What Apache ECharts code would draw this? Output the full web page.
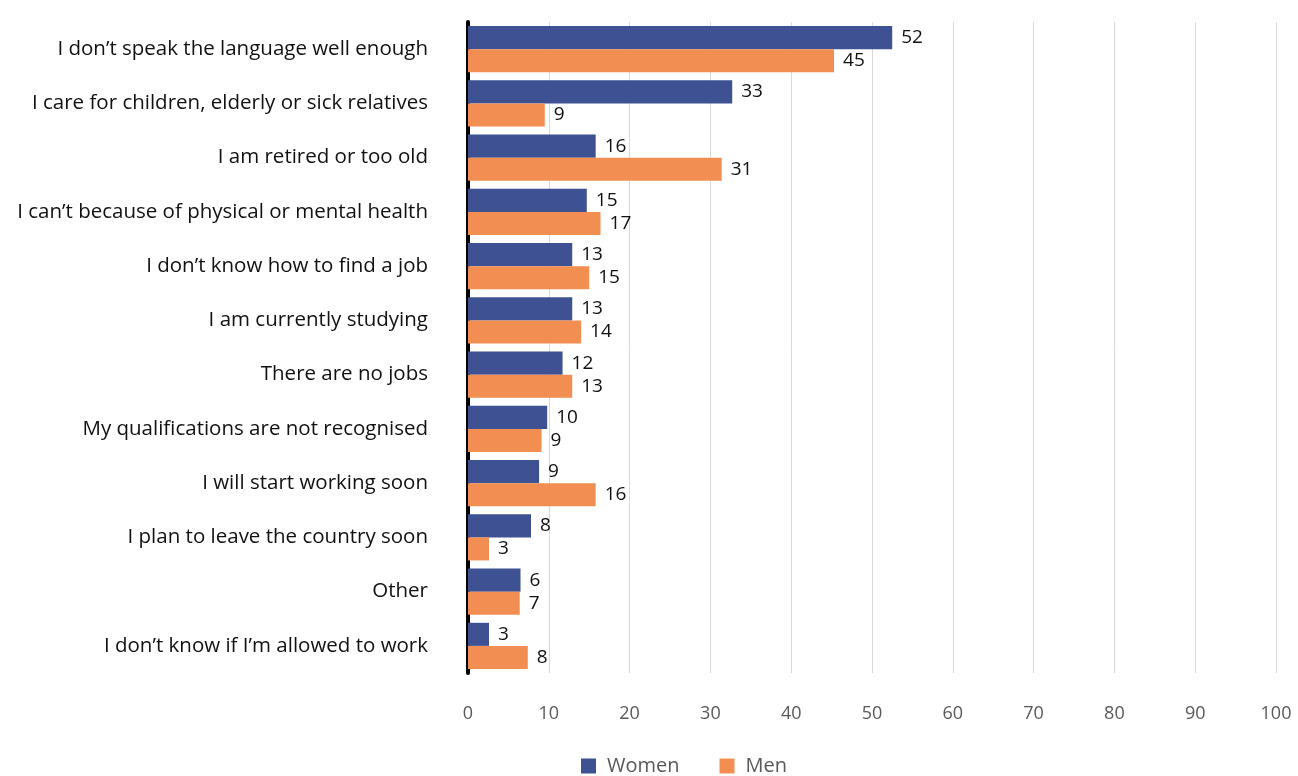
<!DOCTYPE html>
<html>
<head>
<meta charset="utf-8">
<script src="https://cdn.jsdelivr.net/npm/echarts@6/dist/echarts.min.js"></script>
<style>html,body{margin:0;padding:0;background:#fff}#c{width:1298px;height:776px}</style>
</head>
<body>
<div id="c"></div>
<script>
var categories = [
  "I don\u2019t speak the language well enough",
  "I care for children, elderly or sick relatives",
  "I am retired or too old",
  "I can\u2019t because of physical or mental health",
  "I don\u2019t know how to find a job",
  "I am currently studying",
  "There are no jobs",
  "My qualifications are not recognised",
  "I will start working soon",
  "I plan to leave the country soon",
  "Other",
  "I don\u2019t know if I\u2019m allowed to work"
];
var women = [52.5, 32.7, 15.8, 14.7, 12.9, 12.9, 11.7, 9.8, 8.8, 7.8, 6.5, 2.6];
var men = [45.3, 9.5, 31.4, 16.4, 15.0, 14.0, 12.9, 9.1, 15.8, 2.6, 6.4, 7.4];
var womenLabels = [52, 33, 16, 15, 13, 13, 12, 10, 9, 8, 6, 3];
var menLabels = [45, 9, 31, 17, 15, 14, 13, 9, 16, 3, 7, 8];
var xTicks = [0, 10, 20, 30, 40, 50, 60, 70, 80, 90, 100];

var FONT = "Open Sans";
var chart = echarts.init(document.getElementById('c'), null, {renderer: 'canvas'});
function lbl(arr) {
  return function (p) { return String(arr[p.dataIndex]); };
}
chart.setOption({
  animation: false,
  textStyle: {fontFamily: FONT},
  grid: {left: 468, right: 22, top: 22, bottom: 103, containLabel: false},
  legend: {
    data: ['Women', 'Men'],
    top: 751,
    left: 576,
    itemWidth: 15, itemHeight: 15, itemGap: 40,
    icon: 'rect',
    textStyle: {fontFamily: FONT, fontSize: 20, color: '#595959', padding: [0, 0, 0, 6]}
  },
  xAxis: {
    type: 'value', min: xTicks[0], max: xTicks[xTicks.length - 1], interval: 10,
    axisLine: {show: false}, axisTick: {show: false},
    splitLine: {show: true, lineStyle: {color: '#d9d9d9', width: 1}},
    axisLabel: {fontFamily: FONT, fontSize: 18, color: '#595959', margin: 32}
  },
  yAxis: {
    type: 'category', data: categories, inverse: true,
    axisLine: {show: true, lineStyle: {color: '#000', width: 4}},
    axisTick: {show: false},
    axisLabel: {fontFamily: FONT, fontSize: 20.5, color: '#111', margin: 40}
  },
  series: [
    {
      name: 'Women', type: 'bar', data: women, barGap: '0%', barCategoryGap: '15%',
      itemStyle: {color: '#3D5193'},
      label: {show: true, position: 'right', distance: 9, formatter: lbl(womenLabels),
        fontFamily: FONT, fontSize: 19, color: '#111'}
    },
    {
      name: 'Men', type: 'bar', data: men, barGap: '0%', barCategoryGap: '15%',
      itemStyle: {color: '#F28E52'},
      label: {show: true, position: 'right', distance: 9, formatter: lbl(menLabels),
        fontFamily: FONT, fontSize: 19, color: '#111'}
    }
  ]
});
</script>
</body>
</html>
